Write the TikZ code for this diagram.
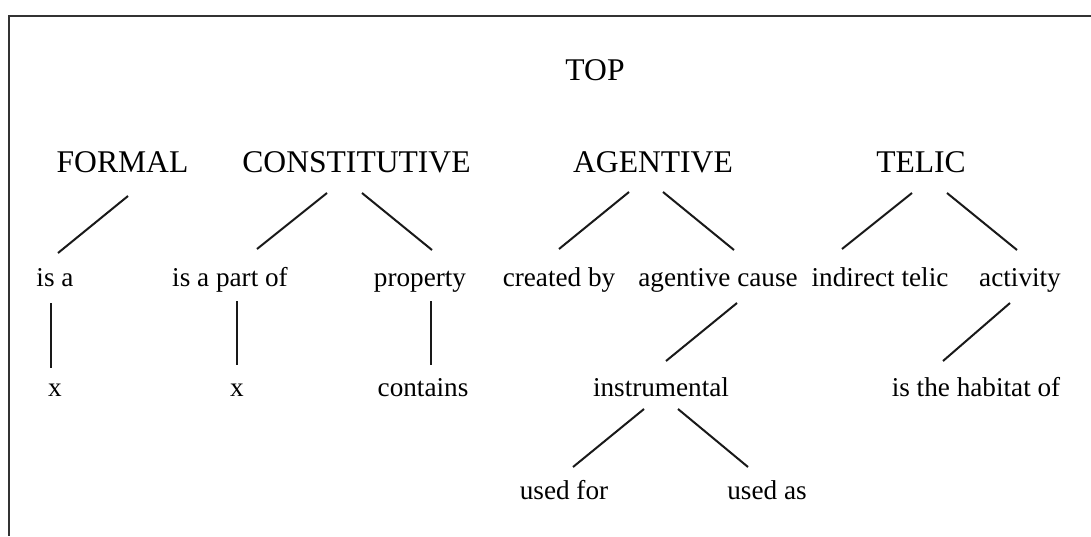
\documentclass[tikz,border=0pt]{standalone}
\usepackage{fontspec}
\setmainfont{Liberation Serif}
\begin{document}
\begin{tikzpicture}[x=1pt,y=-1pt,
  lbl/.style={inner sep=0pt,anchor=base,font=\fontsize{27.2}{30}\selectfont},
  cat/.style={inner sep=0pt,anchor=base,font=\fontsize{31.6}{34}\selectfont},
  edge/.style={line width=2pt,black!90},
  frameline/.style={line width=2pt,black!80}]
\useasboundingbox (0,0) rectangle (1091,536);
% open frame along the top and left
\draw[frameline] (1091,15.5) -- (8.5,15.5) -- (8.5,536);

% root and the four qualia roles
\node[cat] (top) at (595,80) {TOP};
\node[cat] (formal) at (122.5,172) {FORMAL};
\node[cat] (const) at (356.5,172) {CONSTITUTIVE};
\node[cat] (agent) at (653,172) {AGENTIVE};
\node[cat] (telic) at (921,172) {TELIC};

% second level
\node[lbl] (isa) at (55,286) {is a};
\node[lbl] (part) at (230,286) {is a part of};
\node[lbl] (prop) at (420,286) {property};
\node[lbl] (created) at (559,286) {created by};
\node[lbl] (cause) at (718,286) {agentive cause};
\node[lbl] (indirect) at (880,286) {indirect telic};
\node[lbl] (activity) at (1020,286) {activity};

% third level
\node[lbl] (xa) at (55,396) {x};
\node[lbl] (xb) at (237,396) {x};
\node[lbl] (contains) at (423,396) {contains};
\node[lbl] (instr) at (661,396) {instrumental};
\node[lbl] (habitat) at (976,396) {is the habitat of};

% fourth level
\node[lbl] (usedfor) at (564,499) {used for};
\node[lbl] (usedas) at (767,499) {used as};

% branches
\draw[edge] ([shift={(5.5,24)}]formal.base) -- ([shift={(3,-33)}]isa.base);
\draw[edge] ([shift={(-29.5,21)}]const.base) -- ([shift={(27,-37)}]part.base);
\draw[edge] ([shift={(5.5,21)}]const.base) -- ([shift={(12,-36)}]prop.base);
\draw[edge] ([shift={(-24,20)}]agent.base) -- ([shift={(0,-37)}]created.base);
\draw[edge] ([shift={(10,20)}]agent.base) -- ([shift={(16,-36)}]cause.base);
\draw[edge] ([shift={(-9,21)}]telic.base) -- ([shift={(-38,-37)}]indirect.base);
\draw[edge] ([shift={(26,21)}]telic.base) -- ([shift={(-3,-36)}]activity.base);

\draw[edge] ([shift={(-4,17)}]isa.base) -- ([shift={(-4,-28)}]xa.base);
\draw[edge] ([shift={(7,15)}]part.base) -- ([shift={(0,-31)}]xb.base);
\draw[edge] ([shift={(11,15)}]prop.base) -- ([shift={(8,-31)}]contains.base);
\draw[edge] ([shift={(19,17)}]cause.base) -- ([shift={(5,-35)}]instr.base);
\draw[edge] ([shift={(-10,17)}]activity.base) -- ([shift={(-33,-35)}]habitat.base);

\draw[edge] ([shift={(-17,13)}]instr.base) -- ([shift={(9,-32)}]usedfor.base);
\draw[edge] ([shift={(17,13)}]instr.base) -- ([shift={(-19,-32)}]usedas.base);
\end{tikzpicture}
\end{document}
